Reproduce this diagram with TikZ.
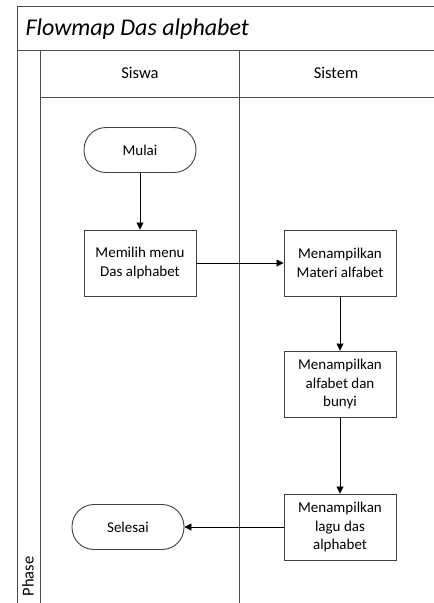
\documentclass[tikz,border=0pt]{standalone}
\usepackage{fontspec}
\setmainfont{Carlito}
\usetikzlibrary{arrows.meta}

\tikzset{
    garis/.style={draw=black!70, line width=1pt},
    proses/.style={draw=black!75, line width=0.9pt, minimum width=112pt,
        minimum height=66pt, align=center, inner sep=2pt,
        font=\fontsize{15}{18.5}\selectfont},
    terminal/.style={proses, minimum height=45pt, rounded corners=22pt},
    panah/.style={-{Triangle[length=7pt,width=7pt]}, line width=0.8pt, black}
}

\begin{document}
\begin{tikzpicture}[x=1pt,y=-1pt]
        \useasboundingbox (0,0) rectangle (434,603);
        % kerangka swimlane
        \draw [garis] (17,603) -- (17,6) -- (434,6);
        \draw [garis] (17,50) -- (434,50);
        \draw [garis] (40,50) -- (40,603);
        \draw [garis] (40,97) -- (434,97);
        \draw [garis] (239,50) -- (239,603);

        \node [anchor=west, font=\fontsize{24}{28}\selectfont\itshape] (judul) at (22,29) {Flowmap Das alphabet};
        \node [font=\fontsize{16.5}{20}\selectfont] (siswa) at (140,73) {Siswa};
        \node [font=\fontsize{16.5}{20}\selectfont] (sistem) at (336,73) {Sistem};
        \node [rotate=90, anchor=west, font=\fontsize{16.5}{20}\selectfont] (fase) at (28,600) {Phase};

        % simbol alur
        \node [terminal] (mulai) at (140,150) {Mulai};
        \node [proses] (pilih) at (140,263) {Memilih menu\\Das alphabet};
        \node [proses] (materi) at (340,263) {Menampilkan\\Materi alfabet};
        \node [proses] (bunyi) at (340,384) {Menampilkan\\alfabet dan\\bunyi};
        \node [proses] (lagu) at (340,527) {Menampilkan\\lagu das\\alphabet};
        \node [terminal] (selesai) at (128,527) {Selesai};

        \draw [panah] (mulai) -- (pilih);
        \draw [panah] (pilih) -- (materi);
        \draw [panah] (materi) -- (bunyi);
        \draw [panah] (bunyi) -- (lagu);
        \draw [panah] (lagu) -- (selesai);
    \end{tikzpicture}
\end{document}
